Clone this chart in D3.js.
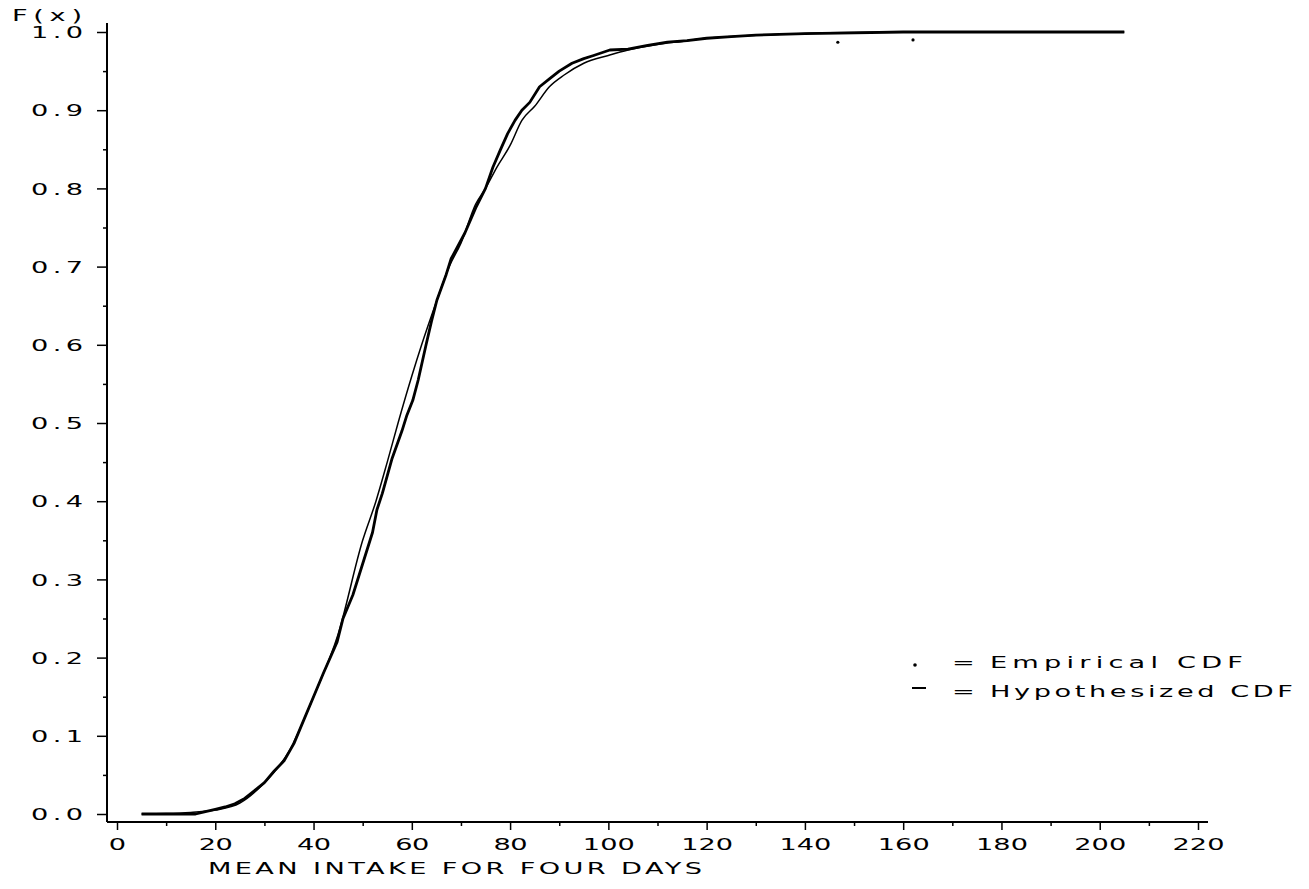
<!DOCTYPE html>
<html>
<head>
<meta charset="utf-8">
<script src="https://cdn.jsdelivr.net/npm/d3@7"></script>
<style>
  body { margin: 0; background: #fff; }
  svg text { font-family: "DejaVu Sans", sans-serif; font-size: 16px; fill: #000; }
</style>
</head>
<body>
<script>
'use strict';

// hypothesized CDF
const hypX = [5, 10, 15, 20, 25, 30, 35, 40, 45, 50, 52.7, 55, 57.2, 60, 62, 65, 67.6, 70, 73, 75,
  77.3, 80, 82.4, 85, 88, 91, 95, 100, 104, 110, 115, 120, 127, 135, 145, 160, 205];
const hypF = [0, 0.0005, 0.002, 0.005, 0.014, 0.04, 0.08, 0.15, 0.23, 0.35, 0.40, 0.45, 0.50, 0.56, 0.60, 0.655, 0.70, 0.73, 0.78, 0.80,
  0.827, 0.855, 0.887, 0.905, 0.93, 0.945, 0.96, 0.97, 0.977, 0.984, 0.988, 0.992, 0.995, 0.997, 0.999, 1.0, 1.0];

// empirical CDF
const empX = [5, 8, 12, 16, 18, 20, 22, 24, 26, 28, 30, 32, 34, 36, 38, 40, 42, 44.8, 46, 48, 50, 52, 52.9, 54, 56, 58, 59,
  60.2, 61.3, 62.9, 64, 65.1, 67, 68, 70.8, 73, 75, 76.5, 78, 79.5, 81, 82.4, 84, 86, 88, 90, 92.6, 95, 97, 100.3,
  104, 108, 112, 116, 120, 125, 130, 140, 150, 160, 180, 205];
const empF = [0, 0, 0, 0, 0.003, 0.006, 0.009, 0.013, 0.02, 0.03, 0.04, 0.055, 0.068, 0.09, 0.12, 0.15, 0.18, 0.22, 0.25, 0.28, 0.32, 0.36, 0.389, 0.41, 0.455, 0.49, 0.51,
  0.529, 0.555, 0.60, 0.63, 0.657, 0.69, 0.71, 0.743, 0.775, 0.80, 0.827, 0.849, 0.87, 0.887, 0.90, 0.91, 0.93, 0.94, 0.95, 0.96, 0.966, 0.97, 0.977,
  0.978, 0.983, 0.987, 0.989, 0.992, 0.994, 0.996, 0.998, 0.999, 1.0, 1.0, 1.0];
// a few loose dots under the top of the empirical curve
const strayX = [146.7, 162];
const strayF = [0.992, 0.995];

const xTicks = [0, 20, 40, 60, 80, 100, 120, 140, 160, 180, 200, 220];
const xMinor = [10, 30, 50, 70, 90, 110, 130, 150, 170, 190, 210];
const yTicks = [0, 0.1, 0.2, 0.3, 0.4, 0.5, 0.6, 0.7, 0.8, 0.9, 1.0];
const yMinor = [0.05, 0.15, 0.25, 0.35, 0.45, 0.55, 0.65, 0.75, 0.85, 0.95];

const SX = 1.7; // plotter font is wide

const svg = d3.select('body').append('svg')
  .attr('width', 1309)
  .attr('height', 889);

const x = d3.scaleLinear().domain([0, 220]).range([117, 1198]);
const y = d3.scaleLinear().domain([0, 1]).range([814, 32]);

const axisX = y(0) + 8;   // x axis sits a little below F=0
const axisY = x(0) - 10;  // y axis sits a little left of x=0

// wide, spaced out text like the pen plotter
function plotterText(str, px, py, width, anchor) {
  const t = svg.append('text')
    .attr('transform', 'translate(' + px + ',' + py + ') scale(' + SX + ',1)')
    .attr('text-anchor', anchor)
    .text(str);
  if (width) t.attr('textLength', width / SX).attr('lengthAdjust', 'spacing');
  return t;
}

function stretchTicks(g, xOff, yOff, anchor, dy) {
  g.selectAll('.tick text')
    .attr('transform', 'scale(' + SX + ',1)')
    .attr('x', xOff / SX)
    .attr('y', yOff)
    .attr('dy', dy)
    .attr('text-anchor', anchor)
    .style('font-size', '16px')
    .style('font-family', '"DejaVu Sans", sans-serif')
    .each(function() {
      const s = d3.select(this).text();
      if (s.length > 1) {
        d3.select(this).attr('textLength', (18 * s.length - 2) / SX).attr('lengthAdjust', 'spacing');
      }
    });
}

// x axis
const gx = svg.append('g')
  .attr('transform', 'translate(0,' + axisX + ')')
  .call(d3.axisBottom(x).tickValues(xTicks).tickSize(8).tickFormat(d3.format('d')));
gx.select('.domain').remove();
gx.selectAll('.tick line').attr('stroke', '#000').attr('stroke-width', 1.5);
stretchTicks(gx, 0, 28, 'middle', '0');

const gxm = svg.append('g')
  .attr('transform', 'translate(0,' + axisX + ')')
  .call(d3.axisBottom(x).tickValues(xMinor).tickSize(4).tickFormat(''));
gxm.select('.domain').remove();
gxm.selectAll('.tick line').attr('stroke', '#000').attr('stroke-width', 1.5);

svg.append('line')
  .attr('x1', axisY).attr('x2', x(220) + 10)
  .attr('y1', axisX).attr('y2', axisX)
  .attr('stroke', '#000').attr('stroke-width', 2);

// y axis
const gy = svg.append('g')
  .attr('transform', 'translate(' + axisY + ',0)')
  .call(d3.axisLeft(y).tickValues(yTicks).tickSize(10).tickFormat(d3.format('.1f')));
gy.select('.domain').remove();
gy.selectAll('.tick line').attr('stroke', '#000').attr('stroke-width', 1.5);
stretchTicks(gy, -24, 0, 'end', '0.36em');

const gym = svg.append('g')
  .attr('transform', 'translate(' + axisY + ',0)')
  .call(d3.axisLeft(y).tickValues(yMinor).tickSize(4).tickFormat(''));
gym.select('.domain').remove();
gym.selectAll('.tick line').attr('stroke', '#000').attr('stroke-width', 1.5);

svg.append('line')
  .attr('x1', axisY).attr('x2', axisY)
  .attr('y1', axisX).attr('y2', y(1) - 9)
  .attr('stroke', '#000').attr('stroke-width', 2);

// curves
const empLine = d3.line()
  .x((d, i) => x(empX[i]))
  .y((d, i) => y(empF[i]));
svg.append('path')
  .attr('d', empLine(empX))
  .attr('fill', 'none')
  .attr('stroke', '#000')
  .attr('stroke-width', 2.8)
  .attr('stroke-linejoin', 'round');

svg.selectAll('.stray')
  .data(strayX)
  .enter()
  .append('circle')
  .attr('class', 'stray')
  .attr('cx', (d) => x(d))
  .attr('cy', (d, i) => y(strayF[i]) + 4)
  .attr('r', 1.6)
  .attr('fill', '#000');

const hypLine = d3.line()
  .curve(d3.curveMonotoneX)
  .x((d, i) => x(hypX[i]))
  .y((d, i) => y(hypF[i]));
svg.append('path')
  .attr('d', hypLine(hypX))
  .attr('fill', 'none')
  .attr('stroke', '#000')
  .attr('stroke-width', 1.5);

// labels
plotterText('F(x)', 12, 21, 70, 'start');
plotterText('MEAN INTAKE FOR FOUR DAYS', 208, 874, 494, 'start');

// legend
svg.append('circle').attr('cx', 915).attr('cy', 665).attr('r', 1.8).attr('fill', '#000');
plotterText('=', 952, 668, null, 'start');
plotterText('Empirical CDF', 990, 668, 253, 'start');
svg.append('line')
  .attr('x1', 912).attr('x2', 926).attr('y1', 688).attr('y2', 688)
  .attr('stroke', '#000').attr('stroke-width', 2);
plotterText('=', 952, 697, null, 'start');
plotterText('Hypothesized CDF', 990, 697, 303, 'start');
</script>
</body>
</html>
